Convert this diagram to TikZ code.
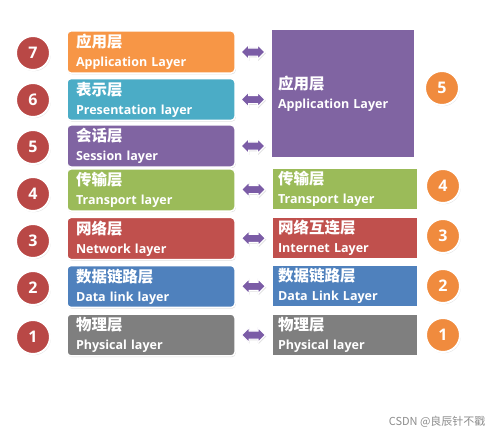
\documentclass[tikz,border=0pt]{standalone}
\usepackage{fontspec}
\setmainfont{Open Sans}
\newfontfamily\cjk{Noto Sans CJK SC}
\usetikzlibrary{shapes.arrows,shadows,positioning}

\definecolor{layOrange}{HTML}{F79646}
\definecolor{layTeal}{HTML}{4BACC6}
\definecolor{layPurple}{HTML}{8064A2}
\definecolor{layGreen}{HTML}{9BBB59}
\definecolor{layRed}{HTML}{C0504D}
\definecolor{layBlue}{HTML}{4F81BD}
\definecolor{layGray}{HTML}{7F7F7F}
\definecolor{numRed}{HTML}{B94846}
\definecolor{numOrange}{HTML}{F08B3E}
\definecolor{linkPurple}{HTML}{7B5CA6}

\newcommand{\layertext}[2]{{\cjk\bfseries\fontsize{15.5}{19}\selectfont #1}\\{\bfseries\fontsize{12.5}{19}\selectfont #2}}

\tikzset{
    softshadow/.style={drop shadow={opacity=0.25, shadow xshift=0.8pt, shadow yshift=-1.2pt}},
    osilayer/.style={draw=white, line width=1.5pt, rounded corners=4pt, minimum width=168pt,
        minimum height=40pt, inner xsep=9pt, text width=150pt, align=left, text=white,
        font=\bfseries\fontsize{12.5}{19}\selectfont, softshadow},
    tcplayer/.style={draw=white, line width=1.5pt, minimum width=146pt, minimum height=40pt,
        inner xsep=6pt, text width=134pt, align=left, text=white,
        font=\bfseries\fontsize{12.5}{19}\selectfont, softshadow},
    numleft/.style={circle, fill=numRed, draw=white, line width=2pt, minimum size=34pt,
        inner sep=0pt, text=white, font=\bfseries\fontsize{16}{16}\selectfont, softshadow},
    numright/.style={numleft, fill=numOrange},
    dblarrow/.style={double arrow, fill=linkPurple, draw=white, line width=1.2pt,
        minimum height=24pt, double arrow head extend=3.5pt,
        inner xsep=0pt, inner ysep=3.5pt, softshadow},
}

\begin{document}
\begin{tikzpicture}[x=1pt, y=-1pt]
    \useasboundingbox (0,0) rectangle (499,431);

    % OSI model, left side
    \node[osilayer, fill=layOrange] (osi7) at (151,52) {\layertext{应用层}{Application Layer}};
    \node[osilayer, fill=layTeal] (osi6) at (151,99.5) {\layertext{表示层}{Presentation layer}};
    \node[osilayer, fill=layPurple] (osi5) at (151,146) {\layertext{会话层}{Session layer}};
    \node[osilayer, fill=layGreen] (osi4) at (151,190) {\layertext{传输层}{Transport layer}};
    \node[osilayer, fill=layRed] (osi3) at (151,238.5) {\layertext{网络层}{Network layer}};
    \node[osilayer, fill=layBlue] (osi2) at (151,286.5) {\layertext{数据链路层}{Data link layer}};
    \node[osilayer, fill=layGray] (osi1) at (151,335) {\layertext{物理层}{Physical layer}};

    \node[numleft] (n7) at (33,53) {7};
    \node[numleft] (n6) at (33,100) {6};
    \node[numleft] (n5) at (33,147) {5};
    \node[numleft] (n4) at (33,194) {4};
    \node[numleft] (n3) at (33,241) {3};
    \node[numleft] (n2) at (33,288) {2};
    \node[numleft] (n1) at (33,337) {1};

    % TCP/IP model, right side
    \node[tcplayer, fill=layPurple, minimum width=144pt, minimum height=129pt, text width=130pt,
        inner xsep=7pt] (tcpapp) at (343,93.5) {\layertext{应用层}{Application Layer}};
    \node[tcplayer, fill=layGreen] (tcp4) at (345,189) {\layertext{传输层}{Transport layer}};
    \node[tcplayer, fill=layRed] (tcp3) at (345,238) {\layertext{网络互连层}{Internet Layer}};
    \node[tcplayer, fill=layBlue] (tcp2) at (345,286) {\layertext{数据链路层}{Data Link Layer}};
    \node[tcplayer, fill=layGray] (tcp1) at (345,335) {\layertext{物理层}{Physical layer}};

    \node[numright] (m5) at (442,88) {5};
    \node[numright] (m4) at (443,186) {4};
    \node[numright] (m3) at (443,236) {3};
    \node[numright] (m2) at (443,286) {2};
    \node[numright] (m1) at (443,335) {1};

    % links between the two stacks
    \path (osi7.east) -- (osi7.east -| tcpapp.west) node[midway, dblarrow] (l7) {};
    \path (osi6.east) -- (osi6.east -| tcpapp.west) node[midway, dblarrow] (l6) {};
    \path (osi5.east) -- (osi5.east -| tcpapp.west) node[midway, dblarrow] (l5) {};
    \path (osi4.east) -- (tcp4.west) node[midway, dblarrow] (l4) {};
    \path (osi3.east) -- (tcp3.west) node[midway, dblarrow] (l3) {};
    \path (osi2.east) -- (tcp2.west) node[midway, dblarrow] (l2) {};
    \path (osi1.east) -- (tcp1.west) node[midway, dblarrow] (l1) {};

    \node[anchor=east, text=black!45, font=\cjk\fontsize{11}{13}\selectfont] (mark) at (489,422) {CSDN @良辰针不戳};
\end{tikzpicture}
\end{document}
